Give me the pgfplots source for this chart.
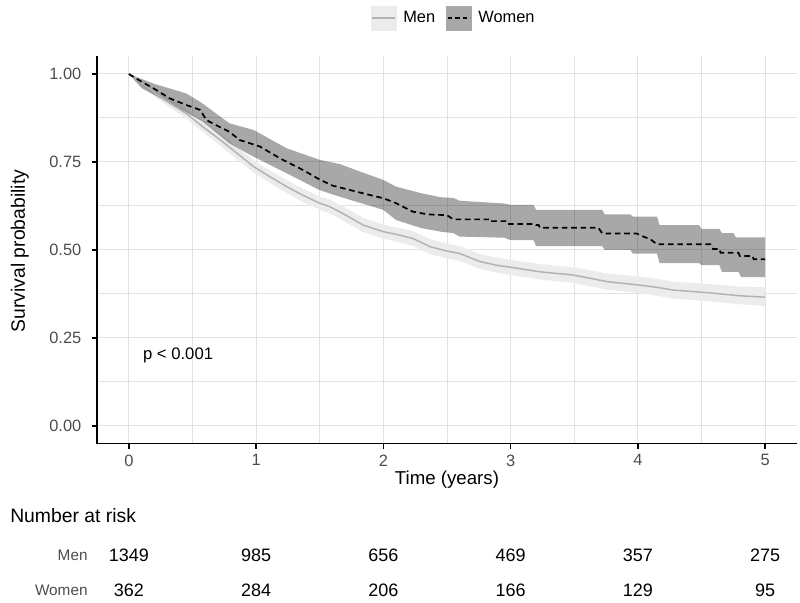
\documentclass[border=0pt]{standalone}
\usepackage{pgfplots}
\pgfplotsset{compat=1.18}
\usepackage{pgfplotstable}
\usepgfplotslibrary{fillbetween}
\usepackage{fontspec}
\setmainfont{Liberation Sans}

% Women: survival curve
\pgfplotstableread{
t s
0.00 1.000
0.10 0.978
0.20 0.958
0.32 0.931
0.45 0.912
0.56 0.898
0.61 0.869
0.70 0.852
0.79 0.836
0.87 0.8125
1.03 0.794
1.19 0.760
1.37 0.727
1.50 0.700
1.60 0.683
1.84 0.661
2.00 0.647
2.10 0.633
2.23 0.609
2.35 0.601
2.50 0.599
2.55 0.587
2.84 0.587
2.84 0.582
2.96 0.582
2.97 0.574
3.19 0.574
3.20 0.571
3.22 0.571
3.23 0.563
3.69 0.563
3.72 0.547
3.99 0.547
4.03 0.540
4.10 0.530
4.15 0.516
4.57 0.516
4.59 0.503
4.64 0.503
4.65 0.492
4.79 0.492
4.80 0.483
4.90 0.483
4.91 0.474
5.00 0.474
}\women

% Women: upper CI
\pgfplotstableread{
t v
0.00 1.000
0.20 0.972
0.45 0.945
0.56 0.921
0.79 0.860
0.98 0.841
1.24 0.789
1.50 0.756
1.66 0.744
1.80 0.725
2.00 0.699
2.10 0.680
2.30 0.661
2.45 0.650
2.55 0.648
2.60 0.640
2.95 0.632
3.00 0.628
3.18 0.628
3.20 0.614
3.72 0.614
3.74 0.601
3.94 0.601
3.96 0.595
4.15 0.595
4.17 0.571
4.48 0.571
4.50 0.560
4.64 0.560
4.66 0.548
4.75 0.548
4.77 0.536
5.00 0.536
}\womenhi

% Women: lower CI
\pgfplotstableread{
t v
0.00 1.000
0.10 0.960
0.32 0.917
0.58 0.865
0.79 0.803
0.98 0.765
1.24 0.718
1.50 0.670
1.66 0.651
2.00 0.614
2.10 0.585
2.30 0.562
2.45 0.552
2.55 0.548
2.60 0.538
2.95 0.535
3.00 0.528
3.18 0.528
3.20 0.511
3.72 0.511
3.74 0.500
3.94 0.500
3.96 0.490
4.15 0.490
4.17 0.463
4.48 0.463
4.50 0.457
4.64 0.457
4.66 0.438
4.79 0.438
4.81 0.423
5.00 0.423
}\womenlo

% Men: curve and CI
\pgfplotstableread{
t s lo hi
0.00 1.000 1.000 1.000
0.10 0.975 0.967 0.983
0.20 0.948 0.937 0.958
0.30 0.922 0.910 0.934
0.45 0.888 0.874 0.902
0.60 0.845 0.830 0.862
0.72 0.8125 0.796 0.830
0.85 0.775 0.757 0.793
0.98 0.737 0.720 0.755
1.10 0.710 0.692 0.728
1.24 0.680 0.662 0.699
1.37 0.655 0.636 0.674
1.50 0.633 0.614 0.652
1.58 0.623 0.604 0.643
1.70 0.600 0.580 0.620
1.84 0.571 0.551 0.592
2.00 0.552 0.532 0.572
2.12 0.543 0.522 0.563
2.23 0.533 0.512 0.554
2.37 0.509 0.488 0.530
2.50 0.497 0.476 0.518
2.60 0.490 0.469 0.511
2.76 0.467 0.446 0.488
2.90 0.456 0.435 0.478
3.00 0.451 0.429 0.472
3.23 0.438 0.416 0.460
3.49 0.429 0.407 0.451
3.62 0.420 0.397 0.443
3.76 0.410 0.387 0.433
4.02 0.400 0.377 0.424
4.15 0.394 0.370 0.418
4.28 0.386 0.362 0.410
4.54 0.379 0.355 0.404
4.80 0.370 0.346 0.396
5.00 0.366 0.341 0.394
}\men

\pgfplotstableread{
t row n
0 1 1349
1 1 985
2 1 656
3 1 469
4 1 357
5 1 275
}\riskmen

\pgfplotstableread{
t row n
0 0 362
1 0 284
2 0 206
3 0 166
4 0 129
5 0 95
}\riskwomen

\definecolor{menline}{RGB}{178,178,178}
\definecolor{menband}{RGB}{236,236,236}
\definecolor{gridc}{RGB}{226,226,226}
\definecolor{tickc}{RGB}{77,77,77}

\begin{document}
\begin{tikzpicture}
\path (0,0) rectangle (600pt,452.25pt);
\begin{axis}[
  at={(72.75pt,119.55pt)}, anchor=south west,
  scale only axis, width=525pt, height=290.4pt,
  xmin=-0.25, xmax=5.25, ymin=-0.05, ymax=1.05,
  xtick={0,1,2,3,4,5},
  ytick={0,0.25,0.5,0.75,1},
  yticklabels={0.00,0.25,0.50,0.75,1.00},
  xticklabels={0,1,2,3,4,5},
  minor x tick num=1, minor y tick num=1,
  grid=both,
  major grid style={gridc, line width=0.75pt},
  minor grid style={gridc, line width=0.75pt},
  axis x line=bottom, axis y line=left,
  axis line style={-, black, line width=1.1pt},
  tick align=outside, major tick length=3.75pt, minor tick length=0pt,
  tick style={black, line width=1.1pt},
  ticklabel style={font=\fontsize{12.3}{14}\selectfont, text=tickc},
  yticklabel style={xshift=-4.5pt},
  xticklabel style={yshift=-1pt},
  clip=false,
  legend columns=2,
  legend style={at={(axis description cs:0.51,1.099)}, anchor=center,
    draw=none, fill=none, font=\fontsize{12.3}{14}\selectfont,
    /tikz/every odd column/.append style={column sep=3pt},
    /tikz/every even column/.append style={column sep=6pt}},
]
% Men band and line
\addplot[draw=none, name path=mu, forget plot] table[x=t,y=hi]{\men};
\addplot[draw=none, name path=ml, forget plot] table[x=t,y=lo]{\men};
\addplot[fill=menband, draw=none, forget plot] fill between[of=mu and ml];
\addplot[menline, line width=1.1pt, forget plot] table[x=t,y=s]{\men};
% Women band and line
\addplot[draw=none, name path=wu, forget plot] table[x=t,y=v]{\womenhi};
\addplot[draw=none, name path=wl, forget plot] table[x=t,y=v]{\womenlo};
\addplot[fill=black, fill opacity=0.34, draw=none, forget plot] fill between[of=wu and wl];
\addplot[black, line width=1.3pt, dash pattern=on 4.2pt off 2.8pt, forget plot] table[x=t,y=s]{\women};
% legend entries
\addlegendimage{legend image code/.code={
  \fill[menband] (0pt,-9pt) rectangle (19pt,9pt);
  \draw[menline, line width=1.1pt] (1pt,0pt) -- (18pt,0pt);}}
\addlegendentry{Men}
\addlegendimage{legend image code/.code={
  \fill[black!34] (0pt,-9pt) rectangle (19pt,9pt);
  \draw[black, line width=1.3pt, dash pattern=on 3.2pt off 2.3pt] (1.5pt,0pt) -- (18pt,0pt);}}
\addlegendentry{Women}
\node[anchor=west, inner sep=0pt, font=\fontsize{12.5}{14}\selectfont] at (axis cs:0.11,0.2) {p < 0.001};
\end{axis}
% axis titles
\node[font=\fontsize{14}{16}\selectfont] at (335.25pt,92.25pt) {Time (years)};
\node[rotate=90, font=\fontsize{14.5}{16}\selectfont] at (15pt,264pt) {Survival probability};
\node[anchor=west, inner sep=0pt, font=\fontsize{14.5}{16}\selectfont] at (7.5pt,65.25pt) {Number at risk};
% risk table
\begin{axis}[
  at={(72.75pt,9.75pt)}, anchor=south west,
  scale only axis, width=525pt, height=26.25pt,
  xmin=-0.25, xmax=5.25, ymin=0, ymax=1,
  axis lines=none, ticks=none, clip=false,
]
\addplot[draw=none, mark=none, nodes near coords, point meta=explicit symbolic,
  nodes near coords style={anchor=center, font=\fontsize{13.5}{15}\selectfont, text=black}]
  table[x=t, y=row, meta=n]{\riskmen};
\addplot[draw=none, mark=none, nodes near coords, point meta=explicit symbolic,
  nodes near coords style={anchor=center, font=\fontsize{13.5}{15}\selectfont, text=black}]
  table[x=t, y=row, meta=n]{\riskwomen};
\node[anchor=east, inner sep=0pt, text=tickc, font=\fontsize{11.5}{13}\selectfont] at (axis cs:-0.322,1) {Men};
\node[anchor=east, inner sep=0pt, text=tickc, font=\fontsize{11.5}{13}\selectfont] at (axis cs:-0.322,0) {Women};
\end{axis}
\end{tikzpicture}
\end{document}
